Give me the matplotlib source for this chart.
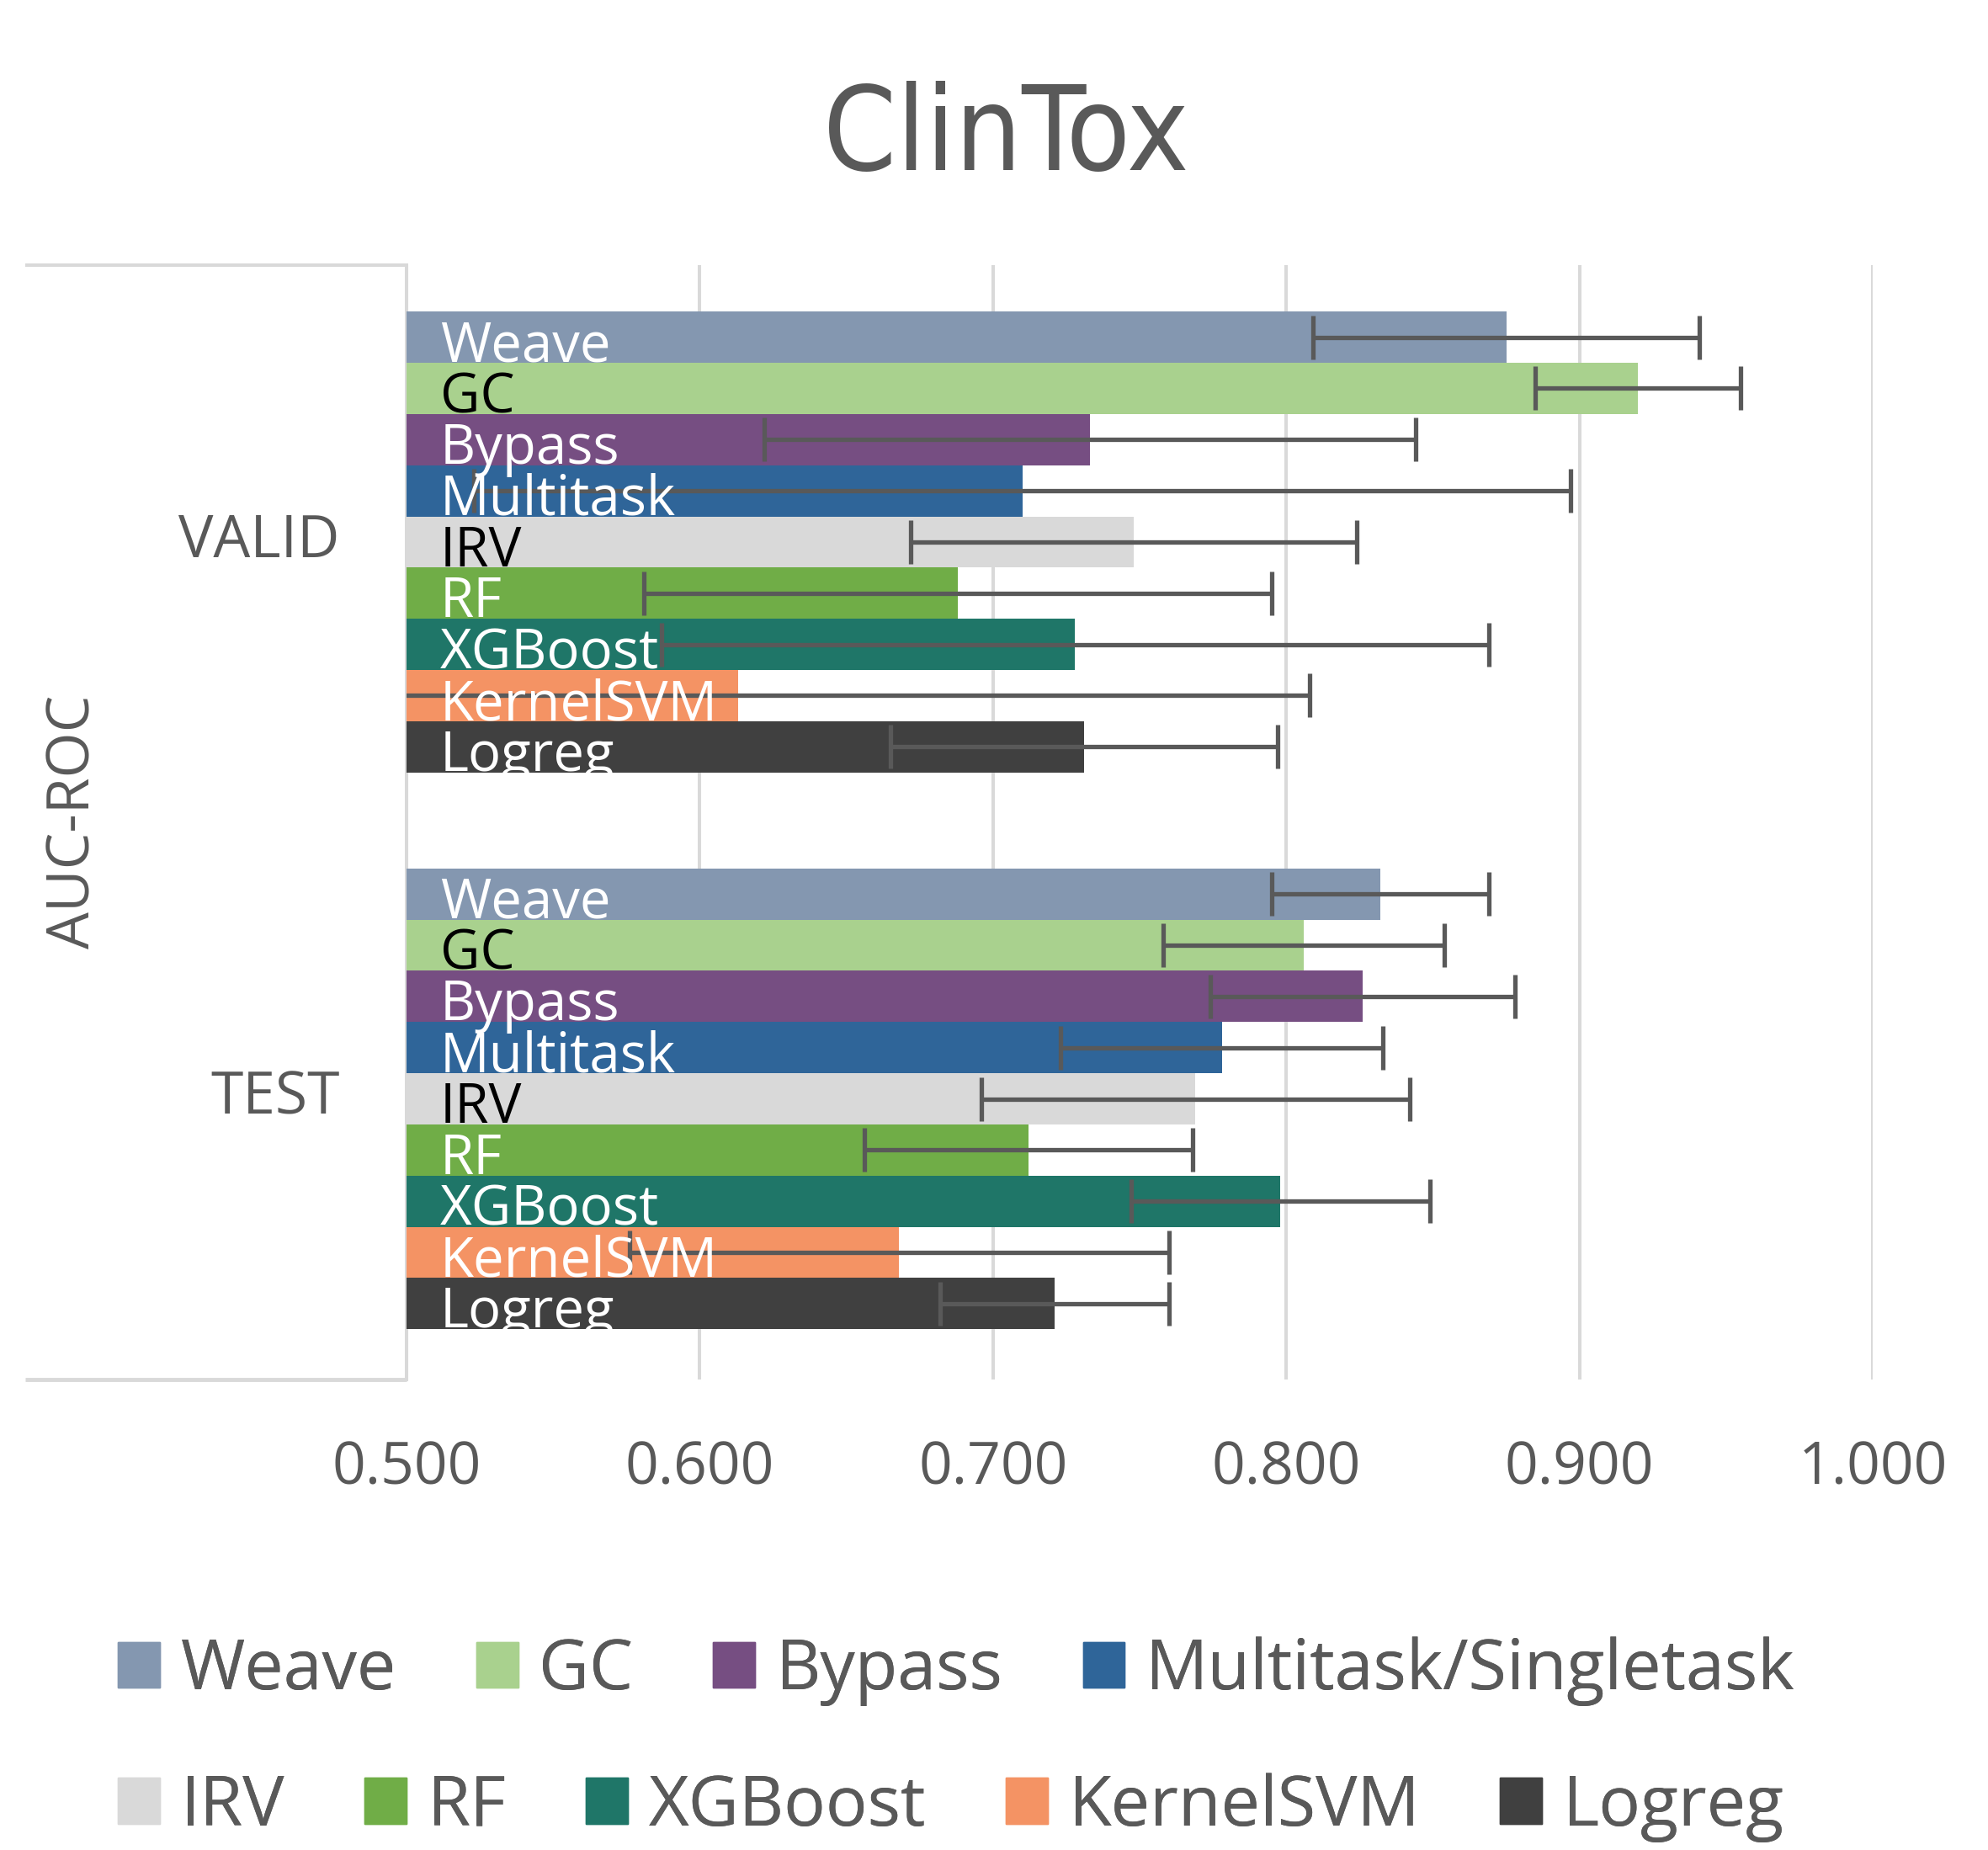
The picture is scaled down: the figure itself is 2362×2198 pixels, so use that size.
import numpy as np
import matplotlib
matplotlib.use("Agg")
import matplotlib.pyplot as plt
import matplotlib.transforms as mtransforms

plt.rcParams['font.family'] = ['Open Sans', 'DejaVu Sans']

# data
models = ["Weave", "GC", "Bypass", "Multitask", "IRV", "RF", "XGBoost", "KernelSVM", "Logreg"]
legend_names = ["Weave", "GC", "Bypass", "Multitask/Singletask", "IRV", "RF", "XGBoost", "KernelSVM", "Logreg"]
groups = ["VALID", "TEST"]

valid_auc = [0.875, 0.920, 0.733, 0.710, 0.748, 0.688, 0.728, 0.613, 0.731]
valid_err = [0.066, 0.035, 0.111, 0.187, 0.076, 0.107, 0.141, 0.195, 0.066]
test_auc = [0.832, 0.806, 0.826, 0.778, 0.769, 0.712, 0.798, 0.668, 0.721]
test_err = [0.037, 0.048, 0.052, 0.055, 0.073, 0.056, 0.051, 0.092, 0.039]

colors = ["#8497B0", "#A9D18E", "#764E82", "#2F6599", "#D9D9D9",
          "#70AD47", "#1F7668", "#F49364", "#404040"]
label_colors = ["white", "black", "white", "white", "black",
                "white", "white", "white", "white"]

xticks = [0.5, 0.6, 0.7, 0.8, 0.9, 1.0]

grey = "#595959"
gridc = "#D9D9D9"

fig = plt.figure(figsize=(23.62, 21.98), dpi=100)
ax = fig.add_axes([0.2045, 0.2545, 0.7375, 0.602])

n = len(models)
top_pad = 0.9
gap = 1.875
bottom_pad = 0.975
y_valid = top_pad + np.arange(n) + 0.5
y_test = top_pad + n + gap + np.arange(n) + 0.5
ymax = top_pad + 2 * n + gap + bottom_pad

for ys, vals, errs in [(y_valid, valid_auc, valid_err), (y_test, test_auc, test_err)]:
    ax.barh(ys, vals, height=1.0, color=colors, zorder=2)
    ax.errorbar(vals, ys, xerr=errs, fmt='none', ecolor=grey, elinewidth=3.8,
                capsize=19, capthick=3.8, zorder=3)
    for i in range(n):
        ax.text(0.5114, ys[i] + 0.47, models[i], color=label_colors[i],
                fontsize=47, va='baseline', ha='left', zorder=4)

ax.set_xlim(0.5, 1.0)
ax.set_ylim(ymax, 0)
ax.set_xticks(xticks)
ax.set_xticklabels(["%.3f" % t for t in xticks])
ax.set_yticks([])
ax.tick_params(axis='x', length=0, pad=52, labelsize=50, labelcolor=grey)
ax.grid(axis='x', color=gridc, linewidth=2.9, zorder=0)
ax.set_axisbelow(True)
for s in ["top", "right", "bottom"]:
    ax.spines[s].set_visible(False)
ax.spines["left"].set_color(gridc)
ax.spines["left"].set_linewidth(2.9)
ax.spines["left"].set_zorder(1)

# multi-level category box on the left
ax.plot([-0.26, 0], [1, 1], transform=ax.transAxes, clip_on=False,
        color=gridc, linewidth=2.9, solid_capstyle='butt')
ax.plot([-0.26, 0], [0, 0], transform=ax.transAxes, clip_on=False,
        color=gridc, linewidth=3.5, solid_capstyle='butt')

trans = mtransforms.blended_transform_factory(ax.transAxes, ax.transData)
ax.text(-0.0455, y_valid.mean(), groups[0], transform=trans, ha='right',
        va='center', fontsize=50, color=grey)
ax.text(-0.0455, y_test.mean(), groups[1], transform=trans, ha='right',
        va='center', fontsize=50, color=grey)

fig.text(0.0374, 0.556, "AUC-ROC", rotation=90, ha='center', va='center',
         fontsize=50, color=grey)

fig.text(0.506, 0.908, "ClinTox", ha='center', va='baseline', fontsize=100,
         color=grey, family=['DejaVu Sans'], fontstretch='condensed')

# legend, two rows laid out like a flow
handles = [plt.Rectangle((0, 0), 1, 1, color=c) for c in colors]
rows = [(0, 4, 0.0966), (4, 9, 0.023)]
for a, b, yy in rows:
    leg = fig.legend(handles[a:b], legend_names[a:b], ncol=b - a,
                     loc='center left', bbox_to_anchor=(0.0594, yy),
                     frameon=False, fontsize=59.5, handlelength=0.6,
                     handleheight=0.64, handletextpad=0.3, columnspacing=1.15,
                     borderpad=0, borderaxespad=0, labelcolor=grey)
    fig.add_artist(leg)

fig.savefig("out.png", dpi=100, facecolor="white")
